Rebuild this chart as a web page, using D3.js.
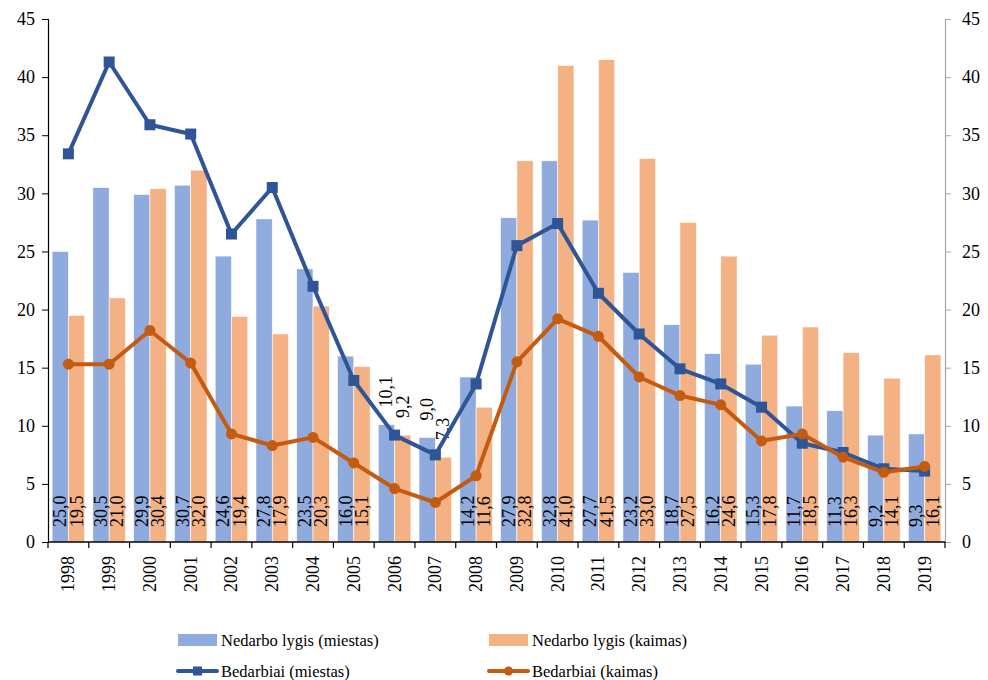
<!DOCTYPE html>
<html><head><meta charset="utf-8">
<script src="https://cdn.jsdelivr.net/npm/d3@7"></script>
<style>body{margin:0;background:#fff}svg{display:block}</style>
</head><body><div id="chart"></div>
<script>
const years = ["1998","1999","2000","2001","2002","2003","2004","2005","2006","2007","2008","2009","2010","2011","2012","2013","2014","2015","2016","2017","2018","2019"];
const rateUrban = [25.0,30.5,29.9,30.7,24.6,27.8,23.5,16.0,10.1,9.0,14.2,27.9,32.8,27.7,23.2,18.7,16.2,15.3,11.7,11.3,9.2,9.3];
const rateRural = [19.5,21.0,30.4,32.0,19.4,17.9,20.3,15.1,9.2,7.3,11.6,32.8,41.0,41.5,33.0,27.5,24.6,17.8,18.5,16.3,14.1,16.1];
const unempUrban = [33.4,41.3,35.9,35.1,26.5,30.5,22.0,13.9,9.2,7.5,13.6,25.5,27.4,21.4,17.9,14.9,13.6,11.6,8.5,7.7,6.3,6.1];
const unempRural = [15.3,15.3,18.2,15.4,9.3,8.3,9.0,6.8,4.6,3.4,5.7,15.5,19.2,17.7,14.2,12.6,11.8,8.7,9.3,7.3,6.0,6.5];
const yTicks = [0,5,10,15,20,25,30,35,40,45];
const outsideLabelYears = ["2006","2007"];
const seriesNames = ["Nedarbo lygis (miestas)","Nedarbo lygis (kaimas)","Bedarbiai (miestas)","Bedarbiai (kaimas)"];

(function(){
const W = 988, H = 680;
const mLeft = 48, mRight = 945, mTop = 19, mBottom = 542;
const FS = 18;
const FF = "'Liberation Serif', 'DejaVu Serif', serif";
const fmt = v => v.toFixed(1).replace(".", ",");
const cBlue = "#8FAADC", cOrange = "#F4B183", cLineBlue = "#2F5597", cLineOrange = "#C55A11";

const svg = d3.select("#chart").append("svg").attr("width", W).attr("height", H)
  .attr("font-family", FF).attr("font-size", FS);
const x0 = d3.scaleBand().domain(years).range([mLeft, mRight]).padding(0);
const x1 = d3.scaleBand().domain(["u","r"]).range([0, x0.bandwidth()]).paddingInner(0).paddingOuter(0.25);
const y = d3.scaleLinear().domain([0,45]).range([mBottom, mTop]);

// bars
const g = svg.append("g");
years.forEach((yr, i) => {
  [["u", rateUrban[i], cBlue], ["r", rateRural[i], cOrange]].forEach(([k, v, c]) => {
    g.append("rect").attr("x", x0(yr) + x1(k)).attr("width", x1.bandwidth())
      .attr("y", y(v)).attr("height", y(0) - y(v)).attr("fill", c)
      .attr("stroke", "#fff").attr("stroke-width", 0.6);
  });
});

// axes
const yl = d3.axisLeft(y).tickValues(yTicks).tickSize(6).tickPadding(7).tickFormat(d3.format("d"));
const axL = svg.append("g").attr("transform", `translate(${mLeft},0)`).call(yl)
  .attr("font-family", FF).attr("font-size", FS);
axL.select(".domain").attr("stroke", "#000").attr("stroke-width", 1.2);
axL.selectAll(".tick line").attr("stroke", "#000");
axL.selectAll("text").attr("fill", "#000");

const yr_ = d3.axisRight(y).tickValues(yTicks).tickSize(6).tickPadding(11).tickFormat(d3.format("d"));
const axR = svg.append("g").attr("transform", `translate(${mRight},0)`).call(yr_)
  .attr("font-family", FF).attr("font-size", FS);
axR.select(".domain").attr("stroke", "#a6a6a6").attr("stroke-width", 1.2);
axR.selectAll(".tick line").attr("stroke", "#a6a6a6");
axR.selectAll("text").attr("fill", "#000");

// x axis
const xa = svg.append("g");
xa.append("line").attr("x1", mLeft).attr("x2", mRight).attr("y1", mBottom).attr("y2", mBottom).attr("stroke", "#000").attr("stroke-width", 1.5);
years.concat(["end"]).forEach((yr, i) => {
  const xx = i < years.length ? x0(yr) : mRight;
  xa.append("line").attr("x1", xx).attr("x2", xx).attr("y1", mBottom).attr("y2", mBottom + 6).attr("stroke", "#000").attr("stroke-width", 1.2);
});
years.forEach(yr => {
  const cx = x0(yr) + x0.bandwidth() / 2;
  xa.append("text").attr("transform", `translate(${cx},${mBottom + 14}) rotate(-90)`)
    .attr("text-anchor", "end").attr("dominant-baseline", "central").attr("fill", "#000").text(yr);
});

// bar labels
years.forEach((yr, i) => {
  [["u", rateUrban[i]], ["r", rateRural[i]]].forEach(([k, v]) => {
    const cx = x0(yr) + x1(k) + x1.bandwidth() / 2;
    const out = outsideLabelYears.includes(yr);
    const ly = out ? y(v) - 17 : mBottom - 15;
    g.append("text").attr("transform", `translate(${cx},${ly}) rotate(-90)`)
      .attr("text-anchor", "start").attr("dominant-baseline", "central").attr("fill", "#000").text(fmt(v));
  });
});

// lines
const cx = d => x0(d) + x0.bandwidth() / 2;
const line = d3.line().x(d => cx(d[0])).y(d => y(d[1]));
const du = years.map((d, i) => [d, unempUrban[i]]);
const dr = years.map((d, i) => [d, unempRural[i]]);
svg.append("path").datum(du).attr("d", line).attr("fill", "none").attr("stroke", cLineBlue).attr("stroke-width", 4).attr("stroke-linejoin", "round");
svg.selectAll(".sq").data(du).enter().append("rect").attr("x", d => cx(d[0]) - 5.5).attr("y", d => y(d[1]) - 5.5)
  .attr("width", 11).attr("height", 11).attr("fill", cLineBlue);
svg.append("path").datum(dr).attr("d", line).attr("fill", "none").attr("stroke", cLineOrange).attr("stroke-width", 4).attr("stroke-linejoin", "round");
svg.selectAll(".ci").data(dr).enter().append("circle").attr("cx", d => cx(d[0])).attr("cy", d => y(d[1]))
  .attr("r", 5.5).attr("fill", cLineOrange);

// legend
const lg = svg.append("g").attr("font-size", 16.5);
const legendItems = [
  {x: 178, y: 640, type: "bar", c: cBlue, t: seriesNames[0]},
  {x: 489, y: 640, type: "bar", c: cOrange, t: seriesNames[1]},
  {x: 178, y: 671, type: "sq", c: cLineBlue, t: seriesNames[2]},
  {x: 489, y: 671, type: "ci", c: cLineOrange, t: seriesNames[3]}
];
legendItems.forEach(it => {
  if (it.type === "bar") {
    lg.append("rect").attr("x", it.x).attr("y", it.y - 6).attr("width", 39).attr("height", 12).attr("fill", it.c);
  } else {
    lg.append("line").attr("x1", it.x).attr("x2", it.x + 39).attr("y1", it.y).attr("y2", it.y).attr("stroke", it.c).attr("stroke-width", 4).attr("stroke-linecap", "round");
    if (it.type === "sq") lg.append("rect").attr("x", it.x + 19.5 - 4.5).attr("y", it.y - 4.5).attr("width", 9).attr("height", 9).attr("fill", it.c);
    else lg.append("circle").attr("cx", it.x + 19.5).attr("cy", it.y).attr("r", 4.5).attr("fill", it.c);
  }
  lg.append("text").attr("x", it.x + 43).attr("y", it.y).attr("dominant-baseline", "central").attr("fill", "#000").text(it.t);
});
})();
</script></body></html>
